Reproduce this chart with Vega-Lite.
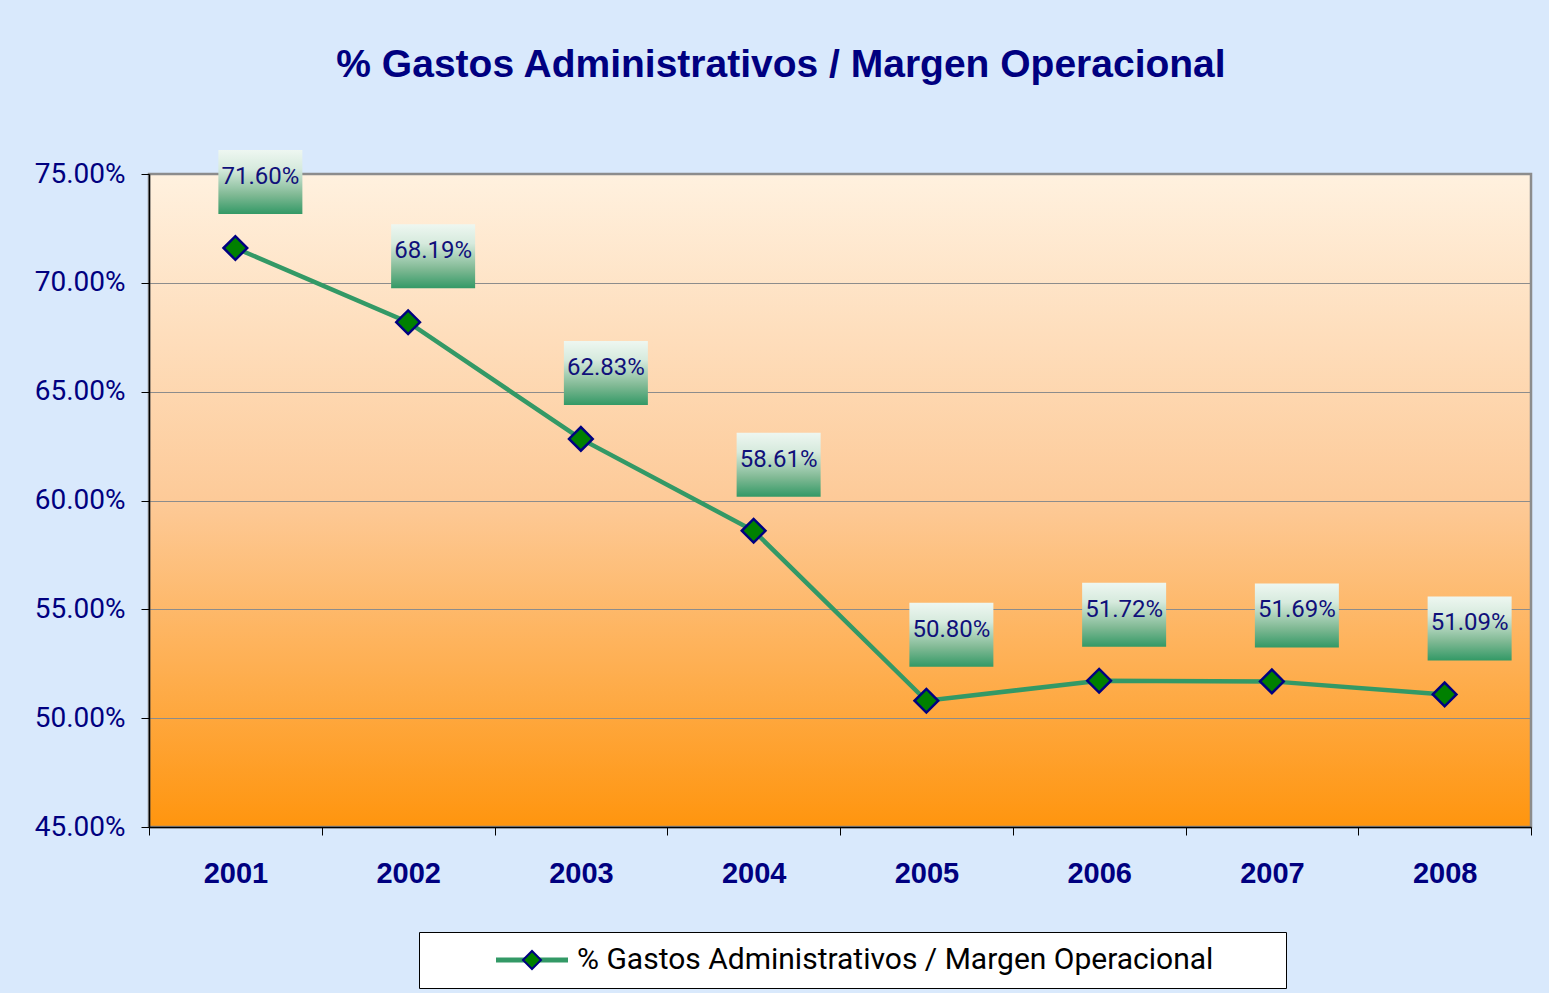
{
  "$schema": "https://vega.github.io/schema/vega-lite/v6.json",
  "width": 1382,
  "height": 653,
  "autosize": {"type": "none"},
  "padding": {"left": 149, "top": 174, "right": 18, "bottom": 166},
  "background": "#d9e9fc",
  "title": {
    "text": "% Gastos Administrativos / Margen Operacional",
    "font": "Liberation Sans",
    "fontSize": 39,
    "fontWeight": "bold",
    "color": "#000080",
    "anchor": "middle",
    "frame": "group",
    "baseline": "alphabetic",
    "dx": -59,
    "offset": 34
  },
  "data": {
    "values": [
      {"year": "2001", "pct": 0.7160, "serie": "% Gastos Administrativos / Margen Operacional", "serie2": "% Gastos Administrativos / Margen Operacional "},
      {"year": "2002", "pct": 0.6819, "serie": "% Gastos Administrativos / Margen Operacional", "serie2": "% Gastos Administrativos / Margen Operacional "},
      {"year": "2003", "pct": 0.6283, "serie": "% Gastos Administrativos / Margen Operacional", "serie2": "% Gastos Administrativos / Margen Operacional "},
      {"year": "2004", "pct": 0.5861, "serie": "% Gastos Administrativos / Margen Operacional", "serie2": "% Gastos Administrativos / Margen Operacional "},
      {"year": "2005", "pct": 0.5080, "serie": "% Gastos Administrativos / Margen Operacional", "serie2": "% Gastos Administrativos / Margen Operacional "},
      {"year": "2006", "pct": 0.5172, "serie": "% Gastos Administrativos / Margen Operacional", "serie2": "% Gastos Administrativos / Margen Operacional "},
      {"year": "2007", "pct": 0.5169, "serie": "% Gastos Administrativos / Margen Operacional", "serie2": "% Gastos Administrativos / Margen Operacional "},
      {"year": "2008", "pct": 0.5109, "serie": "% Gastos Administrativos / Margen Operacional", "serie2": "% Gastos Administrativos / Margen Operacional "}
    ]
  },
  "encoding": {
    "x": {
      "field": "year",
      "type": "ordinal",
      "scale": {"type": "band", "paddingInner": 0, "paddingOuter": 0},
      "axis": {
        "title": null,
        "labelAngle": 0,
        "labelFont": "Liberation Sans",
        "labelFontSize": 29,
        "labelFontWeight": "bold",
        "labelColor": "#000080",
        "labelPadding": 24,
        "tickBand": "extent",
        "tickSize": 8,
        "tickColor": "#000000",
        "domainColor": "#000000",
        "domainWidth": 1.5,
        "grid": false
      }
    },
    "y": {
      "field": "pct",
      "type": "quantitative",
      "scale": {"domain": [0.45, 0.75], "nice": false, "zero": false},
      "axis": {
        "title": null,
        "values": [0.45, 0.5, 0.55, 0.6, 0.65, 0.7, 0.75],
        "format": ".2%",
        "labelFont": "Roboto",
        "labelFontSize": 28,
        "labelColor": "#000080",
        "labelPadding": 16,
        "tickSize": 8,
        "tickColor": "#000000",
        "domainColor": "#000000",
        "domainWidth": 1.5,
        "grid": true,
        "gridColor": "#8c8c8c",
        "gridWidth": 1.2
      }
    }
  },
  "layer": [
    {
      "mark": {"type": "line", "strokeWidth": 4.5},
      "encoding": {
        "stroke": {
          "field": "serie",
          "type": "nominal",
          "scale": {"range": ["#339966"]},
          "legend": {
            "orient": "none",
            "legendX": 270,
            "legendY": 758,
            "title": " ",
            "titleOrient": "left",
            "titleFontSize": 1,
            "titlePadding": 85,
            "padding": 13,
            "fillColor": "#ffffff",
            "strokeColor": "#000000",
            "symbolType": "M-4,0L4,0",
            "symbolSize": 324,
            "symbolStrokeWidth": 5,
            "symbolStrokeColor": "#339966",
            "symbolFillColor": "transparent",
            "labelOffset": 30,
            "labelFont": "Roboto",
            "labelFontSize": 30,
            "labelColor": "#000000",
            "labelLimit": 1000,
            "labelExpr": "datum.label + '\u2800\u00a0\u00a0\u2800'"
          }
        }
      }
    },
    {
      "mark": {"type": "point", "shape": "diamond", "size": 560, "filled": true, "stroke": "#000080", "strokeWidth": 2.5, "opacity": 1},
      "encoding": {
        "fill": {
          "field": "serie2",
          "type": "nominal",
          "scale": {"range": ["#008000"]},
          "legend": {
            "orient": "none",
            "legendX": 270,
            "legendY": 758,
            "title": " ",
            "titleOrient": "left",
            "titleFontSize": 1,
            "titlePadding": 85,
            "padding": 13,
            "fillColor": null,
            "strokeColor": null,
            "symbolType": "diamond",
            "symbolSize": 324,
            "symbolStrokeWidth": 2,
            "symbolStrokeColor": "#000080",
            "symbolFillColor": "#008000",
            "labelOffset": 30,
            "labelFont": "Roboto",
            "labelFontSize": 30,
            "labelOpacity": 0,
            "labelLimit": 1000,
            "labelExpr": "''"
          }
        }
      }
    },
    {
      "mark": {
        "type": "point",
        "shape": "M-1,-0.762L1,-0.762L1,0.762L-1,0.762Z",
        "size": 7056,
        "filled": true,
        "opacity": 1,
        "strokeWidth": 0,
        "xOffset": 25,
        "yOffset": -66,
        "fill": {
          "gradient": "linear",
          "x1": 0, "y1": 0, "x2": 0, "y2": 1,
          "stops": [
            {"offset": 0, "color": "#eef7f1"},
            {"offset": 0.3, "color": "#d6eadd"},
            {"offset": 0.7, "color": "#80b994"},
            {"offset": 1, "color": "#339966"}
          ]
        }
      }
    },
    {
      "mark": {
        "type": "text",
        "align": "center",
        "baseline": "middle",
        "xOffset": 25,
        "yOffset": -71,
        "font": "Roboto",
        "fontSize": 24,
        "color": "#10107a"
      },
      "encoding": {
        "text": {"field": "pct", "type": "quantitative", "format": ".2%"}
      }
    }
  ],
  "config": {
    "view": {
      "stroke": "#8c8c8c",
      "strokeWidth": 2.5,
      "fill": {
        "gradient": "linear",
        "x1": 0, "y1": 0, "x2": 0, "y2": 1,
        "stops": [
          {"offset": 0, "color": "#fff1df"},
          {"offset": 0.5, "color": "#fdca98"},
          {"offset": 1, "color": "#ff950e"}
        ]
      }
    }
  }
}
